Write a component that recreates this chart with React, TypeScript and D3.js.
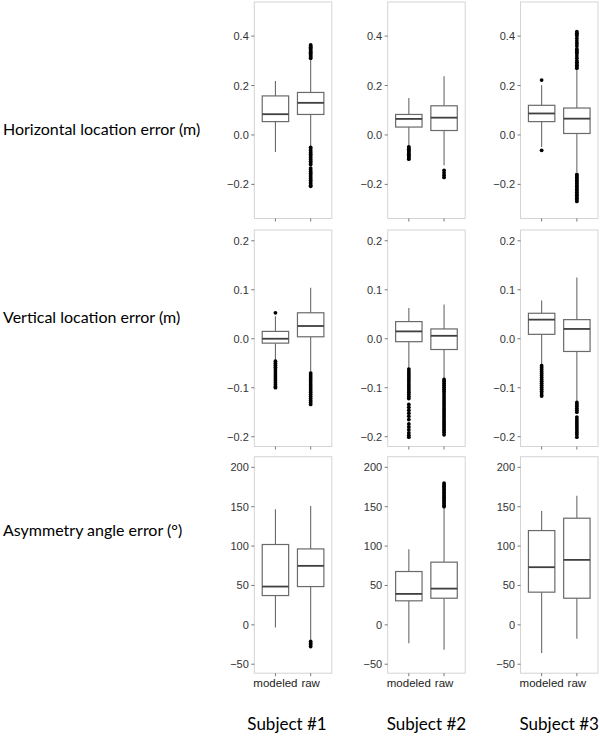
import React from "react";
import * as d3 from "d3";

// ---------- data ----------
const subjects = ["Subject #1", "Subject #2", "Subject #3"];
const groups = ["modeled", "raw"];
const metrics = [
  "Horizontal location error (m)",
  "Vertical location error (m)",
  "Asymmetry angle error (°)",
];

const horizontalTicks = [-0.2, 0.0, 0.2, 0.4];
const verticalTicks = [-0.2, -0.1, 0.0, 0.1, 0.2];
const angleTicks = [-50, 0, 50, 100, 150, 200];

const horizontalDomain = [-0.338, 0.538];
const verticalDomain = [-0.22, 0.222];
const angleDomain = [-61.4, 213.5];

// box stats per subject: [whiskerLow, q1, median, q3, whiskerHigh]
const horizontalModeled = [
  [-0.069, 0.054, 0.084, 0.158, 0.218],
  [-0.045, 0.032, 0.065, 0.083, 0.15],
  [-0.049, 0.054, 0.087, 0.12, 0.201],
];
const horizontalRaw = [
  [-0.046, 0.083, 0.13, 0.172, 0.302],
  [-0.123, 0.018, 0.07, 0.118, 0.238],
  [-0.15, 0.006, 0.066, 0.109, 0.262],
];
const verticalModeled = [
  [-0.045, -0.009, 0.0, 0.015, 0.046],
  [-0.062, -0.006, 0.015, 0.035, 0.063],
  [-0.052, 0.009, 0.039, 0.052, 0.078],
];
const verticalRaw = [
  [-0.07, 0.004, 0.026, 0.053, 0.104],
  [-0.083, -0.022, 0.006, 0.02, 0.07],
  [-0.127, -0.026, 0.02, 0.039, 0.125],
];
const angleModeled = [
  [-3.4, 37.2, 48.6, 102, 146.8],
  [-23.3, 30.5, 39.3, 67.7, 96],
  [-35.9, 41.5, 73.2, 119.7, 144.7],
];
const angleRaw = [
  [-19, 48.6, 74.9, 96.4, 151],
  [-31.7, 33.8, 46, 79.6, 148],
  [-17.8, 33.8, 82.5, 135.4, 164],
];

// outliers per subject
const horizontalModeledOut = [
  [],
  [-0.048, -0.053, -0.058, -0.063, -0.068, -0.073, -0.078, -0.083, -0.088, -0.093, -0.098],
  [0.222, -0.062],
];
const horizontalRawOut = [
  [
    0.31, 0.315, 0.32, 0.325, 0.33, 0.335, 0.34, 0.345, 0.35, 0.355, 0.36, 0.364,
    -0.05, -0.057, -0.064, -0.071, -0.078, -0.085, -0.092, -0.099, -0.106, -0.113,
    -0.12, -0.134, -0.141, -0.148, -0.155, -0.162, -0.169, -0.176, -0.183, -0.19,
    -0.197, -0.204, -0.208,
  ],
  [-0.143, -0.153, -0.163, -0.172],
  [
    0.27, 0.276, 0.282, 0.288, 0.294, 0.3, 0.31, 0.32, 0.33, 0.336, 0.342, 0.348,
    0.36, 0.37, 0.38, 0.39, 0.4, 0.406, 0.412, 0.418,
    -0.16, -0.166, -0.172, -0.178, -0.184, -0.19, -0.196, -0.202, -0.208, -0.214,
    -0.22, -0.226, -0.232, -0.238, -0.244, -0.25, -0.256, -0.262, -0.269,
  ],
];
const verticalModeledOut = [
  [0.053, -0.046, -0.05, -0.054, -0.058, -0.062, -0.066, -0.07, -0.074, -0.078, -0.082,
    -0.086, -0.09, -0.094, -0.098, -0.1],
  [
    -0.062, -0.066, -0.07, -0.074, -0.078, -0.082, -0.086, -0.09, -0.094, -0.098,
    -0.102, -0.106, -0.11, -0.114, -0.118, -0.122, -0.134, -0.14, -0.146, -0.152,
    -0.158, -0.165, -0.174, -0.18, -0.186, -0.192, -0.197, -0.201,
  ],
  [-0.055, -0.059, -0.063, -0.067, -0.071, -0.075, -0.079, -0.083, -0.087, -0.091,
    -0.095, -0.099, -0.103, -0.107, -0.111, -0.115, -0.117],
];
const verticalRawOut = [
  [-0.07, -0.074, -0.078, -0.082, -0.086, -0.09, -0.094, -0.098, -0.102, -0.106,
    -0.11, -0.114, -0.118, -0.122, -0.126, -0.13, -0.134],
  [
    -0.083, -0.087, -0.091, -0.095, -0.099, -0.103, -0.107, -0.111, -0.115, -0.119,
    -0.123, -0.127, -0.131, -0.135, -0.139, -0.143, -0.147, -0.151, -0.155, -0.159,
    -0.163, -0.167, -0.171, -0.175, -0.179, -0.183, -0.187, -0.191, -0.196,
  ],
  [-0.13, -0.134, -0.138, -0.142, -0.146, -0.15, -0.16, -0.164, -0.168, -0.172,
    -0.176, -0.18, -0.184, -0.188, -0.192, -0.196, -0.201],
];
const angleModeledOut = [[], [], []];
const angleRawOut = [
  [-21, -23, -25, -27.5],
  [150, 152, 154, 156, 158, 160, 162, 164, 166, 168, 170, 172, 174, 176, 178, 180],
  [],
];

// ---------- layout ----------
const W = 600;
const H = 736;
const colLefts = [254.3, 387.7, 520.5];
const panelW = 77.5;
const rowTops = [2, 230, 456.7];
const panelH = 216.5;
const rowLabelY = [128, 316, 529];

const rows = [
  { domain: horizontalDomain, ticks: horizontalTicks, fmt: d3.format(".1f"), modeled: horizontalModeled, raw: horizontalRaw, modeledOut: horizontalModeledOut, rawOut: horizontalRawOut },
  { domain: verticalDomain, ticks: verticalTicks, fmt: d3.format(".1f"), modeled: verticalModeled, raw: verticalRaw, modeledOut: verticalModeledOut, rawOut: verticalRawOut },
  { domain: angleDomain, ticks: angleTicks, fmt: d3.format("d"), modeled: angleModeled, raw: angleRaw, modeledOut: angleModeledOut, rawOut: angleRawOut },
];

const boxStroke = "#6a6a6a";
const medianStroke = "#3f3f3f";
const panelStroke = "#d4d4d4";
const tickColor = "#333333";

function Box({ x, bw, stats, y }: any) {
  const [lo, q1, med, q3, hi] = stats;
  return (
    <g>
      <line x1={x} x2={x} y1={y(hi)} y2={y(q3)} stroke={boxStroke} strokeWidth={1.1} />
      <line x1={x} x2={x} y1={y(q1)} y2={y(lo)} stroke={boxStroke} strokeWidth={1.1} />
      <rect x={x - bw / 2} y={y(q3)} width={bw} height={y(q1) - y(q3)} fill="#ffffff" stroke={boxStroke} strokeWidth={1.2} />
      <line x1={x - bw / 2} x2={x + bw / 2} y1={y(med)} y2={y(med)} stroke={medianStroke} strokeWidth={1.8} />
    </g>
  );
}

export default function App() {
  return (
    <svg width={W} height={H} style={{ position: "absolute", left: 0, top: 0, background: "#fff" }}>
      <rect width={W} height={H} fill="#ffffff" />
      {metrics.map((m, ri) => (
        <text key={m} x={3} y={rowLabelY[ri]} dominantBaseline="central" fontFamily="Lato, 'Open Sans', sans-serif" fontSize={16} fill="#000">
          {m}
        </text>
      ))}
      {rows.map((row, ri) => {
        const y = d3.scaleLinear().domain(row.domain).range([rowTops[ri] + panelH, rowTops[ri]]);
        return subjects.map((s, ci) => {
          const left = colLefts[ci];
          const xb = d3.scalePoint().domain(groups).range([left, left + panelW]).padding(0.6);
          const step = xb.step();
          const bw = step * 0.75;
          const statsArr = [row.modeled[ci], row.raw[ci]];
          const outArr = [row.modeledOut[ci], row.rawOut[ci]];
          return (
            <g key={`${ri}-${ci}`}>
              <rect x={left} y={rowTops[ri]} width={panelW} height={panelH} fill="#fff" stroke={panelStroke} strokeWidth={1} />
              {row.ticks.map((t) => (
                <g key={t}>
                  <line x1={left - 3} x2={left} y1={y(t)} y2={y(t)} stroke="#555" strokeWidth={0.8} />
                  <text x={left - 5.5} y={y(t)} textAnchor="end" dominantBaseline="central" fontFamily="Liberation Sans, Arial, sans-serif" fontSize={11} fill={tickColor}>
                    {row.fmt(t)}
                  </text>
                </g>
              ))}
              {groups.map((g) => (
                <line key={g} x1={xb(g)} x2={xb(g)} y1={rowTops[ri] + panelH} y2={rowTops[ri] + panelH + 3} stroke="#555" strokeWidth={0.8} />
              ))}
              {groups.map((g, gi) => (
                <Box key={g} x={xb(g)} bw={bw} stats={statsArr[gi]} y={y} />
              ))}
              {groups.map((g, gi) =>
                outArr[gi].map((v: number, k: number) => (
                  <circle key={`${g}-${k}`} cx={xb(g)} cy={y(v)} r={1.9} fill="#000" />
                ))
              )}
              {ri === 2 &&
                groups.map((g) => (
                  <text key={g} x={xb(g)} y={rowTops[ri] + panelH + 10} textAnchor="middle" dominantBaseline="central" fontFamily="Liberation Sans, Arial, sans-serif" fontSize={11.5} fill="#222">
                    {g}
                  </text>
                ))}
            </g>
          );
        });
      })}
      {subjects.map((s, ci) => (
        <text key={s} x={colLefts[ci] + panelW / 2 - (ci === 0 ? 6 : 0)} y={723} textAnchor="middle" dominantBaseline="central" fontFamily="Lato, 'Open Sans', sans-serif" fontSize={17} fill="#000">
          {s}
        </text>
      ))}
    </svg>
  );
}
